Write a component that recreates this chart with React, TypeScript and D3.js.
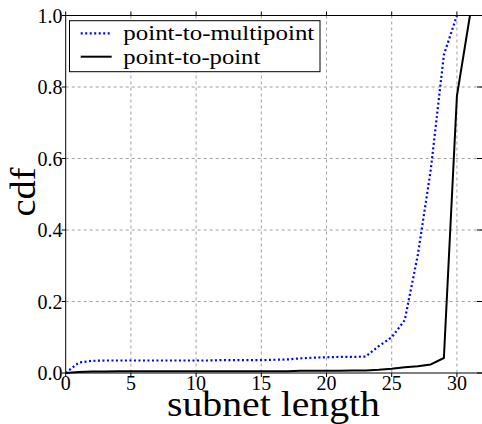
import React from "react";
import * as d3 from "d3";

const xsMulti = [0, 1, 2, 3, 4, 5, 6, 7, 8, 9, 10, 11, 12, 13, 14, 15, 16, 17, 18, 19, 20, 21, 22, 23, 24, 25, 26, 27, 28, 29, 30];
const cdfMulti = [0, 0.029, 0.034, 0.035, 0.035, 0.035, 0.035, 0.035, 0.035, 0.035, 0.035, 0.035, 0.036, 0.036, 0.036, 0.036, 0.037, 0.038, 0.041, 0.043, 0.044, 0.045, 0.045, 0.046, 0.075, 0.1, 0.148, 0.33, 0.57, 0.89, 1.0];
const xsP2P = [0, 1, 2, 3, 4, 5, 6, 7, 8, 9, 10, 11, 12, 13, 14, 15, 16, 17, 18, 19, 20, 21, 22, 23, 24, 25, 26, 27, 28, 29, 30, 31];
const cdfP2P = [0, 0.003, 0.004, 0.004, 0.005, 0.005, 0.005, 0.005, 0.005, 0.005, 0.005, 0.005, 0.005, 0.005, 0.005, 0.005, 0.005, 0.005, 0.006, 0.006, 0.006, 0.006, 0.007, 0.007, 0.009, 0.012, 0.016, 0.019, 0.024, 0.042, 0.775, 1.0];
const xTicks = [0, 5, 10, 15, 20, 25, 30];
const yTicks = [0, 0.2, 0.4, 0.6, 0.8, 1.0];
const seriesNames = ["point-to-multipoint", "point-to-point"];

const W = 482;
const H = 424;
const left = 65.7;
const right = 483;
const top = 15.5;
const bottom = 373;
const FONT = "Liberation Serif, Times New Roman, Times, serif";

export default function App() {
  const x = d3.scaleLinear().domain([0, 32]).range([left, right]);
  const y = d3.scaleLinear().domain([0, 1]).range([bottom, top]);
  const line = d3
    .line<[number, number]>()
    .x((d) => x(d[0]))
    .y((d) => y(d[1]));
  const multiPts = xsMulti.map((v, i) => [v, cdfMulti[i]] as [number, number]);
  const p2pPts = xsP2P.map((v, i) => [v, cdfP2P[i]] as [number, number]);
  const gridColor = "#a0a0a0";
  const txt = { fontFamily: FONT };

  return (
    <svg
      width={W}
      height={H}
      style={{ position: "absolute", left: 0, top: 0, background: "#fff", display: "block" }}
    >
      <defs>
        <clipPath id="plotclip">
          <rect x={left} y={top - 2} width={right - left} height={bottom - top + 4} />
        </clipPath>
      </defs>
      {xTicks.filter((t) => t > 0).map((t) => (
        <line key={"gx" + t} x1={x(t)} x2={x(t)} y1={top} y2={bottom} stroke={gridColor} strokeWidth={1} strokeDasharray="3,3" />
      ))}
      {yTicks.filter((t) => t > 0 && t < 1).map((t) => (
        <line key={"gy" + t} x1={left} x2={right} y1={y(t)} y2={y(t)} stroke={gridColor} strokeWidth={1} strokeDasharray="3,3" />
      ))}
      <g clipPath="url(#plotclip)">
        <path d={line(p2pPts) || ""} fill="none" stroke="#000" strokeWidth={2} strokeLinejoin="round" />
        <path d={line(multiPts) || ""} fill="none" stroke="#0000ff" strokeWidth={2.2} strokeDasharray="2,2.5" />
      </g>
      <rect x={left} y={top} width={right - left} height={bottom - top} fill="none" stroke="#000" strokeWidth={1} />
      {xTicks.map((t) => (
        <g key={"tx" + t}>
          <line x1={x(t)} x2={x(t)} y1={bottom} y2={bottom + 4} stroke="#000" strokeWidth={1} />
          <line x1={x(t)} x2={x(t)} y1={top} y2={top - 4} stroke="#000" strokeWidth={1} />
          <text x={x(t)} y={390} textAnchor="middle" style={txt} fontSize={20} fill="#000">
            {t}
          </text>
        </g>
      ))}
      {yTicks.map((t) => (
        <g key={"ty" + t}>
          <line x1={left} x2={left - 4} y1={y(t)} y2={y(t)} stroke="#000" strokeWidth={1} />
          <line x1={right - 6} x2={right} y1={y(t)} y2={y(t)} stroke="#000" strokeWidth={1} />
          <text x={62.5} y={y(t) + 7} textAnchor="end" style={txt} fontSize={20} fill="#000">
            {t.toFixed(1)}
          </text>
        </g>
      ))}
      <text x={273.5} y={416} textAnchor="middle" style={txt} fontSize={35} textLength={213} lengthAdjust="spacingAndGlyphs" fill="#000">
        subnet length
      </text>
      <text
        transform={`translate(35,192) rotate(-90)`}
        textAnchor="middle"
        style={txt}
        fontSize={36}
        textLength={49}
        lengthAdjust="spacingAndGlyphs"
        fill="#000"
      >
        cdf
      </text>
      <rect x={69.5} y={20.7} width={250.5} height={51} fill="#fff" stroke="#000" strokeWidth={1} />
      <line x1={80.7} x2={111.7} y1={33.3} y2={33.3} stroke="#0000ff" strokeWidth={2.2} strokeDasharray="2,2.5" />
      <line x1={80.7} x2={111.7} y1={56.7} y2={56.7} stroke="#000" strokeWidth={2} />
      <text x={123.3} y={40} style={txt} fontSize={22} textLength={191} lengthAdjust="spacingAndGlyphs" fill="#000">
        {seriesNames[0]}
      </text>
      <text x={123.3} y={63.5} style={txt} fontSize={22} textLength={137} lengthAdjust="spacingAndGlyphs" fill="#000">
        {seriesNames[1]}
      </text>
    </svg>
  );
}
